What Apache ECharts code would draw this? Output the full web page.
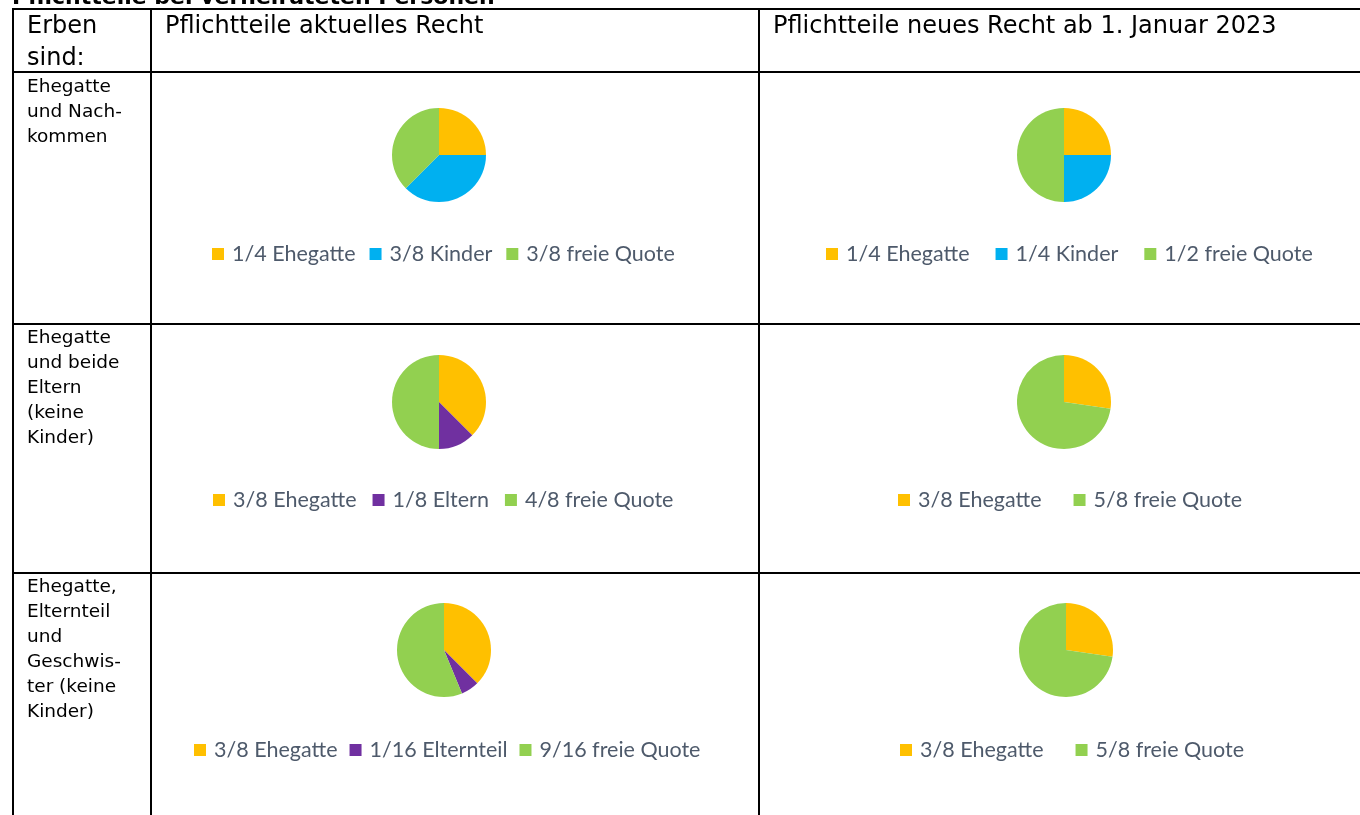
<!doctype html>
<html lang="de">
  <head>
    <meta charset="utf-8">
    <title>Pflichtteile bei verheirateten Personen</title>
    <script src="https://cdn.jsdelivr.net/npm/echarts@6.0.0/dist/echarts.min.js"></script>
    <style>
      html, body {
        width: 100%;
        height: 100%;
        margin: 0;
        background: #fff;
      }

      #chart {
        width: 1360px;
        height: 815px;
      }
    </style>
  </head>
  <body>
    <div id="chart"></div>
    <script>
      const title = 'Pflichtteile bei verheirateten Personen';
      const headers = ['Erben\nsind:', 'Pflichtteile aktuelles Recht', 'Pflichtteile neues Recht ab 1. Januar 2023'];
      const rowLabels = [
        'Ehegatte\nund Nach-\nkommen',
        'Ehegatte\nund beide\nEltern\n(keine\nKinder)',
        'Ehegatte,\nElternteil\nund\nGeschwis-\nter (keine\nKinder)'
      ];

      // shares per pie (in sixteenths where useful)
      const oldRow1Names = ['1/4 Ehegatte', '3/8 Kinder', '3/8 freie Quote'];
      const oldRow1Values = [4, 6, 6];
      const newRow1Names = ['1/4 Ehegatte', '1/4 Kinder', '1/2 freie Quote'];
      const newRow1Values = [4, 4, 8];
      const oldRow2Names = ['3/8 Ehegatte', '1/8 Eltern', '4/8 freie Quote'];
      const oldRow2Values = [6, 2, 8];
      const newRow2Names = ['3/8 Ehegatte', '5/8 freie Quote'];
      const newRow2Values = [3, 8];
      const oldRow3Names = ['3/8 Ehegatte', '1/16 Elternteil', '9/16 freie Quote'];
      const oldRow3Values = [6, 1, 9];
      const newRow3Names = ['3/8 Ehegatte', '5/8 freie Quote'];
      const newRow3Values = [3, 8];

      const oldColors = ['#FFC000', '#00B0F0', '#92D050'];
      const eltColors = ['#FFC000', '#7030A0', '#92D050'];
      const twoColors = ['#FFC000', '#92D050'];

      const chart = echarts.init(document.getElementById('chart'), null, {renderer: 'canvas'});

      const textFont = '"DejaVu Sans", Tahoma, sans-serif';
      const legendFont = 'Lato, Calibri, sans-serif';

      // table grid
      const lineStyle = {stroke: '#000', lineWidth: 2};
      const hLines = [9, 72, 324, 573];
      const vLines = [13, 151, 759];
      const grid = [];
      hLines.forEach((y) => {
        grid.push({type: 'line', shape: {x1: 12, y1: y, x2: 1360, y2: y}, style: lineStyle, silent: true});
      });
      vLines.forEach((x) => {
        grid.push({type: 'line', shape: {x1: x, y1: 9, x2: x, y2: 815}, style: lineStyle, silent: true});
      });

      const texts = [
        {type: 'text', x: 12, y: -13, style: {text: title, font: 'bold 22px ' + textFont, fill: '#000', verticalAlign: 'top'}},
        {type: 'text', left: 27, top: 11, style: {text: headers[0], font: '24px ' + textFont, fill: '#000', lineHeight: 32}},
        {type: 'text', left: 165, top: 11, style: {text: headers[1], font: '24px ' + textFont, fill: '#000', lineHeight: 32}},
        {type: 'text', left: 773, top: 11, style: {text: headers[2], font: '24px ' + textFont, fill: '#000', lineHeight: 32}},
        {type: 'text', left: 27, top: 75, style: {text: rowLabels[0], font: '18.5px ' + textFont, fill: '#000', lineHeight: 25}},
        {type: 'text', left: 27, top: 326, style: {text: rowLabels[1], font: '18.5px ' + textFont, fill: '#000', lineHeight: 25}},
        {type: 'text', left: 27, top: 575, style: {text: rowLabels[2], font: '18.5px ' + textFont, fill: '#000', lineHeight: 25}}
      ];

      function pie(names, values, colors, center) {
        return {
          type: 'pie',
          center: center,
          radius: 47,
          startAngle: 90,
          clockwise: true,
          animation: false,
          label: {show: false},
          labelLine: {show: false},
          emphasis: {disabled: true},
          itemStyle: {borderColor: '#fff', borderWidth: 0},
          data: names.map((n, i) => ({name: n, value: values[i], itemStyle: {color: colors[i]}}))
        };
      }

      function legend(names, left, top, gap) {
        return {
          data: names,
          left: left - 5,
          top: top,
          itemWidth: 12,
          itemHeight: 12,
          itemGap: gap,
          icon: 'rect',
          selectedMode: false,
          textStyle: {fontFamily: legendFont, fontSize: 21.5, color: '#4E5A6B', padding: [0, 0, 0, 3]}
        };
      }

      const option = {
        animation: false,
        graphic: grid.concat(texts),
        legend: [
          legend(oldRow1Names, 212, 238, 14),
          legend(newRow1Names, 826, 238, 26),
          legend(oldRow2Names, 213, 484, 16),
          legend(newRow2Names, 898, 484, 32),
          legend(oldRow3Names, 194, 734, 12),
          legend(newRow3Names, 900, 734, 32)
        ],
        series: [
          pie(oldRow1Names, oldRow1Values, oldColors, [439, 155]),
          pie(newRow1Names, newRow1Values, oldColors, [1064, 155]),
          pie(oldRow2Names, oldRow2Values, eltColors, [439, 402]),
          pie(newRow2Names, newRow2Values, twoColors, [1064, 402]),
          pie(oldRow3Names, oldRow3Values, eltColors, [444, 650]),
          pie(newRow3Names, newRow3Values, twoColors, [1066, 650])
        ]
      };

      chart.setOption(option);
    </script>
  </body>
</html>
